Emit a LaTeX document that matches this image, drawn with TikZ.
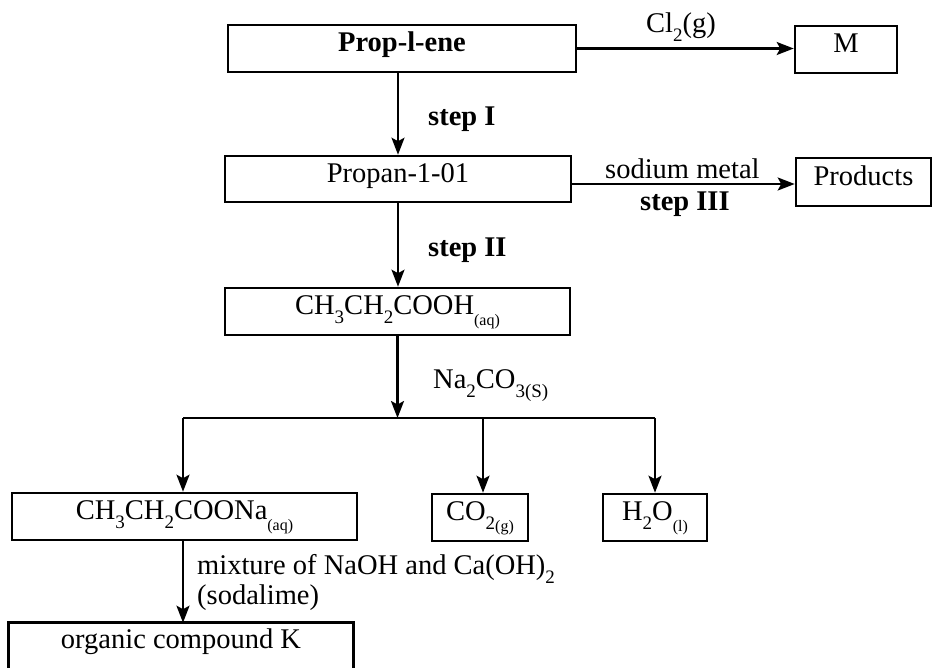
\documentclass[tikz,border=0pt]{standalone}
\usepackage{fontspec}
\setmainfont{Liberation Serif}
\usetikzlibrary{arrows.meta}
\newcommand{\chsub}[1]{\raisebox{-9pt}{\fontsize{19}{19}\selectfont #1}}
\newcommand{\chphase}[1]{\raisebox{-11pt}{\fontsize{16}{16}\selectfont #1}}
\begin{document}
\begin{tikzpicture}[x=1pt,y=-1pt,
  every node/.style={font=\fontsize{28.5}{32}\selectfont, inner sep=0pt},
  chembox/.style={draw, line width=2.6pt, text height=15pt, text depth=9pt},
  boxline/.style={line width=2.6pt},
  conn/.style={line width=2.2pt},
  arr/.style={conn, -{Stealth[length=17pt,width=13pt,inset=3.5pt]}},
  lbl/.style={anchor=base west}]
\useasboundingbox (0,0) rectangle (934,667);

% boxes
\node[chembox, minimum width=348pt, minimum height=47pt] (P) at (402,48.5) {\bfseries Prop-l-ene};
\node[chembox, minimum width=102pt, minimum height=47pt] (M) at (846,49.5) {M};
\node[chembox, minimum width=346pt, minimum height=46pt] (Pr) at (398,179) {Propan-1-01};
\node[chembox, minimum width=135pt, minimum height=48pt] (Prod) at (863.5,182) {Products};
\node[chembox, minimum width=345pt, minimum height=47pt] (A) at (397.5,311.5) {CH\chsub{3}CH\chsub{2}COOH\chphase{(aq)}};
\node[chembox, minimum width=345pt, minimum height=47pt] (S) at (184.5,516.5) {CH\chsub{3}CH\chsub{2}COONa\chphase{(aq)}};
\node[chembox, minimum width=96pt, minimum height=47pt] (C) at (480,517.5) {CO\chsub{2}\chphase{(g)}};
\node[chembox, minimum width=104pt, minimum height=47pt] (H) at (655,517.5) {H\chsub{2}O\chphase{(l)}};
\node[chembox, draw=none, minimum width=342pt, minimum height=43pt] (K) at (181,645.5) {organic compound K};
\draw[boxline] (K.south west) -- (K.north west) -- (K.north east) -- (K.south east);

% labels
\node[anchor=base] (lCl) at (681,32) {Cl\chsub{2}(g)};
\node[lbl] (lI) at (428,125) {\bfseries step I};
\node[lbl] (lNa) at (605,178) {sodium metal};
\node[lbl] (lIII) at (640,210) {\bfseries step III};
\node[lbl] (lII) at (428,256) {\bfseries step II};
\node[lbl] (lNaCO) at (433,388) {Na\chsub{2}CO\chsub{3(S)}};
\node[lbl] (lmix) at (197,574) {mixture of NaOH and Ca(OH)\chsub{2}};
\node[lbl] (lsoda) at (197,604) {(sodalime)};

% connectors
\draw[arr] (P.east) -- (P.east -| M.west);
\draw[arr] (P.south -| Pr.north) -- (Pr.north);
\coordinate (e) at ([yshift=-5pt]Pr.east);
\draw[arr] (e) -- (e -| Prod.west);
\draw[arr] (Pr.south) -- (Pr.south |- A.north);
\coordinate (br) at (397.5,418);
\coordinate (bl) at (183,418);
\coordinate (bm) at (483,418);
\coordinate (bR) at (655,418);
\draw[arr] (A.south) -- (br);
\draw[conn] (bl) -- (bR);
\draw[arr] (bl) -- (bl |- S.north);
\draw[arr] (bm) -- (bm |- C.north);
\draw[arr] (bR) -- (bR |- H.north);
\draw[arr] (bl |- S.south) -- (bl |- K.north);
\end{tikzpicture}
\end{document}
